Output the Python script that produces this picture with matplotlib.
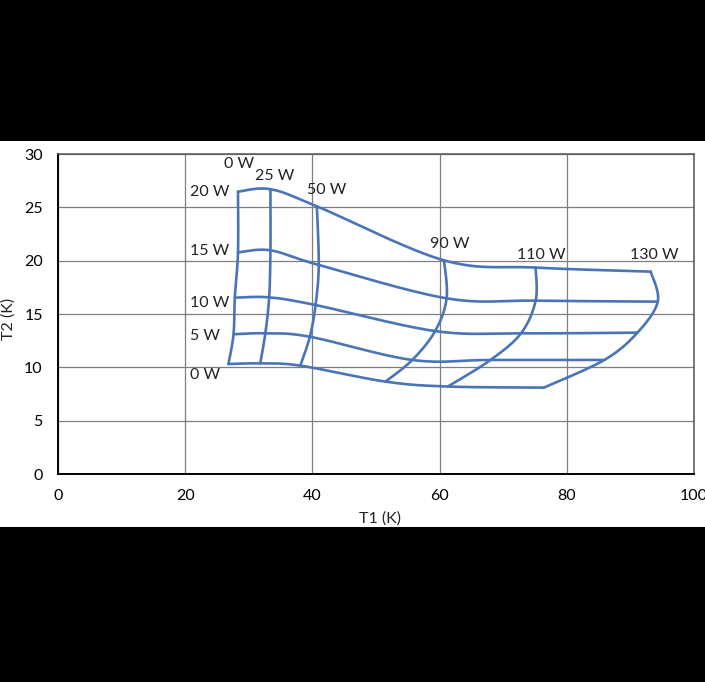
import numpy as np
import matplotlib
matplotlib.use("Agg")
import matplotlib.pyplot as plt
from matplotlib.patches import Rectangle

# ---- data (T1, T2 in K) : rows = Q2 load, columns = Q1 load ----
q1_labels = ["0 W", "25 W", "50 W", "90 W", "110 W", "130 W"]
q2_labels = ["0 W", "5 W", "10 W", "15 W", "20 W"]

t1_q2_0 = [26.8, 31.8, 38.1, 51.5, 61.3, 76.4]
t2_q2_0 = [10.31, 10.37, 10.16, 8.66, 8.2, 8.1]
t1_q2_5 = [27.6, 32.6, 39.6, 55.7, 68.0, 85.9]
t2_q2_5 = [13.1, 13.19, 12.87, 10.69, 10.69, 10.69]
t1_q2_10 = [27.8, 33.2, 40.5, 59.3, 72.8, 91.1]
t2_q2_10 = [16.53, 16.56, 15.84, 13.4, 13.19, 13.25]
t1_q2_15 = [28.3, 33.4, 41.0, 61.1, 75.1, 94.3]
t2_q2_15 = [20.78, 20.97, 19.6, 16.47, 16.25, 16.16]
t1_q2_20 = [28.3, 33.4, 40.7, 60.7, 75.1, 93.2]
t2_q2_20 = [26.47, 26.7, 25.1, 20.03, 19.35, 18.97]

x_ticks = [0, 20, 40, 60, 80, 100]
y_ticks = [0, 5, 10, 15, 20, 25, 30]

T1 = np.array([t1_q2_0, t1_q2_5, t1_q2_10, t1_q2_15, t1_q2_20])
T2 = np.array([t2_q2_0, t2_q2_5, t2_q2_10, t2_q2_15, t2_q2_20])


def smooth(xs, ys, n=30):
    """Excel-like smoothed line: cubic Bezier with Catmull-Rom control points."""
    P = np.column_stack([xs, ys]).astype(float)
    m = len(P)
    out = []
    for i in range(m - 1):
        p0 = P[max(i - 1, 0)]
        p1 = P[i]
        p2 = P[i + 1]
        p3 = P[min(i + 2, m - 1)]
        c1 = p1 + (p2 - p0) / 6.0
        c2 = p2 - (p3 - p1) / 6.0
        t = np.linspace(0, 1, n)[:, None]
        seg = ((1 - t) ** 3) * p1 + 3 * ((1 - t) ** 2) * t * c1 + 3 * (1 - t) * t ** 2 * c2 + t ** 3 * p2
        if i > 0:
            seg = seg[1:]
        out.append(seg)
    out = np.vstack(out)
    return out[:, 0], out[:, 1]


plt.rcParams['font.family'] = ['Lato', 'DejaVu Sans']
fs = 11.5

fig = plt.figure(figsize=(7.05, 6.82), dpi=100)
fig.patch.set_facecolor('black')
fig.add_artist(Rectangle((0, 155 / 682), 1, 386 / 682, transform=fig.transFigure,
                         facecolor='white', edgecolor='none', zorder=0))

ax = fig.add_axes([58 / 705, (682 - 474) / 682, 636 / 705, 320 / 682])
ax.set_facecolor('white')

color = '#4a74b8'
lw = 1.9
# constant Q2 lines (roughly horizontal)
for r in range(T1.shape[0]):
    xs, ys = smooth(T1[r], T2[r])
    ax.plot(xs, ys, color=color, lw=lw, solid_capstyle='round', zorder=3)
# constant Q1 lines (roughly vertical)
for c in range(T1.shape[1]):
    xs, ys = smooth(T1[:, c], T2[:, c])
    ax.plot(xs, ys, color=color, lw=lw, solid_capstyle='round', zorder=3)

ax.set_xlim(0, 100)
ax.set_ylim(0, 30)
ax.set_xticks(x_ticks)
ax.set_yticks(y_ticks)
ax.set_xticklabels([str(v) for v in x_ticks], fontsize=fs)
ax.set_yticklabels([str(v) for v in y_ticks], fontsize=fs)
ax.tick_params(length=0, pad=11)
ax.grid(True, color='#7f7f7f', lw=0.9, zorder=1)
ax.set_axisbelow(True)
for s in ['left', 'bottom']:
    ax.spines[s].set_color('black')
    ax.spines[s].set_linewidth(1.4)
for s in ['top', 'right']:
    ax.spines[s].set_color('#555555')
    ax.spines[s].set_linewidth(1.1)

# Q1 labels (top)
q1_label_x = [28.5, 34.1, 42.2, 61.6, 76.0, 93.7]
q1_label_y = [29.1, 27.9, 26.6, 21.6, 20.5, 20.5]
for lab, x, y in zip(q1_labels, q1_label_x, q1_label_y):
    ax.text(x, y, lab, fontsize=fs, ha='center', va='center', color='#222222', zorder=4)

# Q2 labels (left)
q2_label_y = [9.3, 12.9, 16.0, 20.9, 26.4]
for lab, y in zip(q2_labels, q2_label_y):
    ax.text(20.8, y, lab, fontsize=fs, ha='left', va='center', color='#222222', zorder=4)

fig.text(380 / 705, (682 - 518.5) / 682, "T1 (K)", fontsize=fs, ha='center', va='center', color='#222222')
fig.text(9 / 705, (682 - 318.7) / 682, "T2 (K)", fontsize=fs, ha='center', va='center',
         rotation=90, color='#222222')

fig.savefig("out.png", dpi=100, facecolor=fig.get_facecolor())
